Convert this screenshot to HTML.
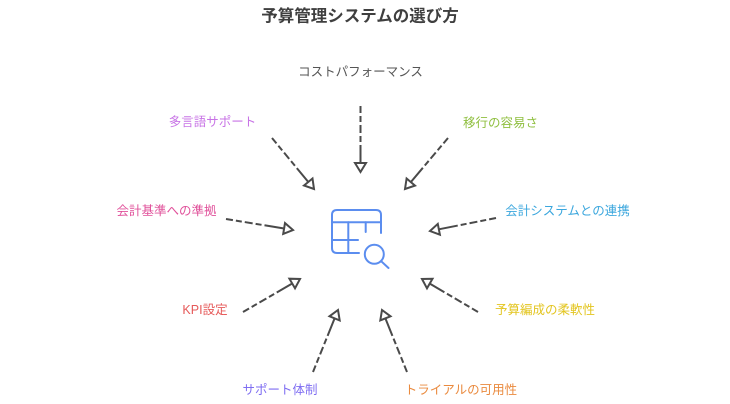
<!DOCTYPE html>
<html>
<head>
<meta charset="utf-8">
<style>
html,body{margin:0;padding:0;background:#fff;}
svg{display:block;}
text{font-family:"Liberation Sans","Noto Sans CJK JP",sans-serif;}
</style>
</head>
<body>
<svg width="730" height="404" viewBox="0 0 730 404" xmlns="http://www.w3.org/2000/svg">
  <rect width="730" height="404" fill="#fff"/>
  <text x="360" y="16.5" text-anchor="middle" dominant-baseline="central" font-size="16.5" font-weight="bold" fill="#3f3f3f">予算管理システムの選び方</text>

  <g font-size="12.5" text-anchor="middle" dominant-baseline="central">
    <text x="360.5" y="72" fill="#555">コストパフォーマンス</text>
    <text x="212.5" y="122" fill="#c874e6">多言語サポート</text>
    <text x="500.5" y="123" fill="#8fbf3f">移行の容易さ</text>
    <text x="166.5" y="211" fill="#e0509a">会計基準への準拠</text>
    <text x="567.5" y="211" fill="#3aa6dd">会計システムとの連携</text>
    <text x="205" y="310" fill="#e65a5a">KPI設定</text>
    <text x="545" y="310" fill="#e3c51f">予算編成の柔軟性</text>
    <text x="280" y="390" fill="#7f6ef2">サポート体制</text>
    <text x="461" y="390" fill="#ea8a3e">トライアルの可用性</text>
  </g>

  <g stroke="#4a4a4a" stroke-width="2" fill="none" stroke-linecap="butt">
    <g stroke-dasharray="7 3 6 3 8 3 6 3 60">
      <line x1="360.5" y1="106" x2="360.5" y2="163"/>
      <line x1="272" y1="138" x2="308.3" y2="182"/>
      <line x1="226" y1="219" x2="284.1" y2="228.5"/>
      <line x1="448" y1="138" x2="410.8" y2="182.1"/>
      <line x1="496" y1="218" x2="438.8" y2="229.3"/>
      <line x1="243" y1="312" x2="292.2" y2="283.5"/>
      <line x1="313" y1="372" x2="334.6" y2="318.4"/>
      <line x1="478" y1="312" x2="429.8" y2="283.6"/>
      <line x1="407" y1="372" x2="385.4" y2="318.4"/>
    </g>
    <g fill="#fff" stroke-linejoin="miter">
      <polygon points="355,163 366,163 360.5,172"/>
      <polygon points="304,185.5 312.5,178.5 314,189"/>
      <polygon points="283.2,233.9 285,223.1 293,230"/>
      <polygon points="406.6,178.5 415,185.6 405,189"/>
      <polygon points="437.8,223.9 439.9,234.7 430,231"/>
      <polygon points="295,288.3 289.4,278.7 300,279"/>
      <polygon points="339.7,320.4 329.5,316.3 338,310"/>
      <polygon points="432.5,278.8 427,288.3 422,279"/>
      <polygon points="390.5,316.3 380.3,320.4 382,310"/>
    </g>
  </g>

  <g stroke="#5b8def" stroke-width="2" fill="none" stroke-linecap="round" stroke-linejoin="round">
    <path d="M381,233 L381,215 Q381,210 376,210 L337,210 Q332,210 332,215 L332,248 Q332,253 337,253 L359,253"/>
    <line x1="332" y1="222.3" x2="381" y2="222.3"/>
    <line x1="348.3" y1="222.3" x2="348.3" y2="253"/>
    <line x1="365.7" y1="222.3" x2="365.7" y2="232"/>
    <line x1="332" y1="240" x2="358" y2="240"/>
    <circle cx="374.3" cy="254.3" r="9.5"/>
    <line x1="381.3" y1="261.3" x2="388.5" y2="268"/>
  </g>
</svg>
</body>
</html>
